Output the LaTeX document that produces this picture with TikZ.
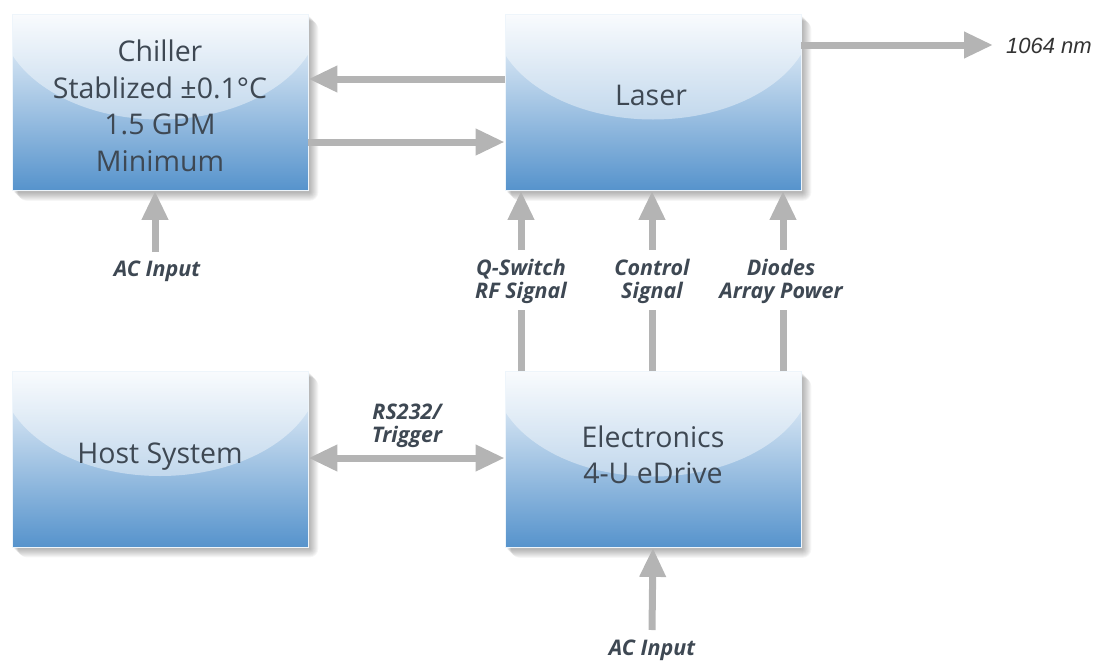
\documentclass[tikz,border=0pt]{standalone}
\usepackage{fontspec}
\setmainfont{Open Sans}
\newfontfamily\arialf{Liberation Sans}
\usetikzlibrary{arrows.meta,calc,backgrounds}
\definecolor{txt}{HTML}{3E4853}
\definecolor{arr}{HTML}{B4B4B4}
\definecolor{btop}{HTML}{F5F9FD}
\definecolor{bmid}{HTML}{A9CCEA}
\definecolor{bbot}{HTML}{5693CC}
\tikzset{
  blk/.style={rectangle, minimum width=296pt, minimum height=176pt, inner sep=0pt,
    top color=btop, middle color=bmid, bottom color=bbot,
    draw=white!80!bmid, line width=0.8pt,
    path picture={\fill[white,opacity=0.42] (path picture bounding box.north) ellipse [x radius=160pt, y radius=105pt];}},
  btxt/.style={text=txt, font=\fontsize{28.5}{36.5}\selectfont, align=center, inner sep=0pt},
  lbl/.style={text=txt, font=\fontsize{21.5}{23}\selectfont\bfseries\itshape, align=center, inner sep=0pt},
  conn/.style={draw=arr, line width=7pt, -{Triangle[length=29pt,width=25pt]}},
  dconn/.style={draw=arr, line width=7pt, {Triangle[length=29pt,width=25pt]}-{Triangle[length=29pt,width=25pt]}},
  plainline/.style={draw=arr, line width=7pt},
}
\begin{document}
\begin{tikzpicture}[x=1pt,y=-1pt]
\useasboundingbox (0,0) rectangle (1101,664);
% boxes
\node[blk] (chiller) at (160,102.5) {};
\node[blk] (laser) at (653,102.5) {};
\node[blk] (host) at (160,459) {};
\node[blk] (elec) at (653,459.5) {};
\node[btxt] (chillert) at (160,106) {Chiller\\Stablized ±0.1°C\\1.5 GPM\\Minimum};
\node[btxt] (lasert) at (651,95) {Laser};
\node[btxt] (hostt) at (160,457) {Host System};
\node[btxt] (elect) at (653,455) {Electronics\\4-U eDrive};
% shadows
\begin{scope}[on background layer]
\foreach \n in {chiller,laser,host,elec}{
  \foreach \k in {1,...,9}{
    \fill[black,opacity=0.035,rounded corners=\k pt] ($(\n.north west)+(\k*0.5+2,\k*0.5+2)$) rectangle ($(\n.south east)+(\k+1,\k+1)$);
  }}
\end{scope}
% laser <-> chiller
\draw[conn] (laser.west |- 0,79) -- (chiller.east |- 0,79);
\draw[conn] (chiller.east |- 0,142) -- (laser.west |- 0,142);
% output
\node[anchor=west, inner sep=0pt, text=black!80, font=\arialf\itshape\fontsize{22}{24}\selectfont] (nm) at (1006,46) {1064 nm};
\coordinate (nmtip) at (993,45);
\draw[conn] (laser.east |- nmtip) -- (nmtip);
% chiller AC input
\node[lbl] (ac1) at (157,271) {AC Input};
\coordinate (ac1s) at (155,252);
\draw[conn] (ac1s) -- (chiller.south -| ac1s);
% electronics -> laser signals
\node[lbl] (qs) at (521,281) {Q-Switch\\RF Signal};
\node[lbl] (cs) at (652,281) {Control\\Signal};
\node[lbl] (dp) at (781,281) {Diodes\\Array Power};
\coordinate (qsl) at (521,0);
\coordinate (csl) at (652,0);
\coordinate (dpl) at (783,0);
\foreach \c in {qsl,csl,dpl}{
  \draw[plainline] (elec.north -| \c) -- (\c |- 0,310);
  \draw[conn] (\c |- 0,250) -- (laser.south -| \c);
}
% host <-> electronics
\draw[dconn] (host.east |- 0,458) -- (elec.west |- 0,458);
\node[lbl] (rs) at (407,426) {RS232/\\Trigger};
% electronics AC input
\node[lbl] (ac2) at (652,650) {AC Input};
\coordinate (ac2s) at (652,630);
\draw[conn] (ac2s) -- (elec.south);
\end{tikzpicture}
\end{document}
